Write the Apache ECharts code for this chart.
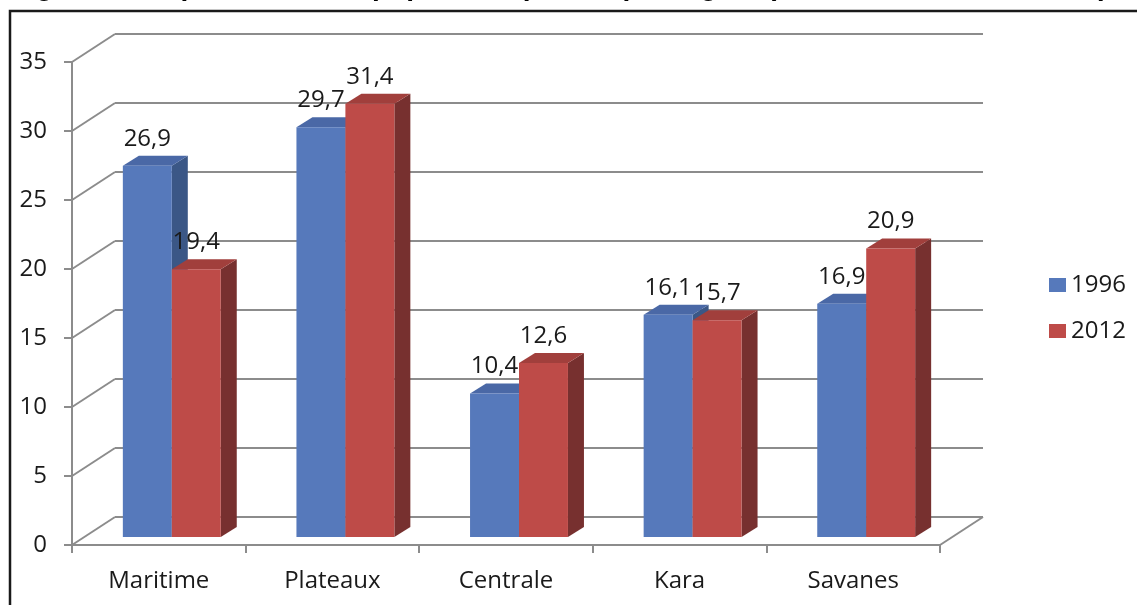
<!DOCTYPE html>
<html>
<head>
<meta charset="utf-8">
<script src="https://cdn.jsdelivr.net/npm/echarts@6/dist/echarts.min.js"></script>
<style>
  html, body { margin: 0; padding: 0; background: #ffffff; }
  #chart { width: 1137px; height: 605px; }
</style>
</head>
<body>
<div id="chart"></div>
<script>
// Data
const titleText = 'Figure 3 : Répartition de la population pauvre par région (en %, entre 1996 et 2012)';
const categories = ['Maritime', 'Plateaux', 'Centrale', 'Kara', 'Savanes'];
const years = ['1996', '2012'];
const values1996 = [26.9, 29.7, 10.4, 16.1, 16.9];
const values2012 = [19.4, 31.4, 12.6, 15.7, 20.9];
const yMin = 0, yMax = 35, yStep = 5;

// Pseudo-3D geometry (pixels)
const FLOOR = [43, -28];     // depth of the floor / back wall
const BAR_SHIFT = [13, -8];  // where the bars sit inside the floor depth
const BAR_DEPTH = [16, -10]; // thickness of each bar
const BAR_RATIO = 0.282;     // width of one bar relative to the category band

const FONT = 'Open Sans';
const GRID_COLOR = '#8c8c8c';
const TEXT_COLOR = '#1a1a1a';

const palette = {
  '1996': { front: '#5679bb', top: '#4a68a6', side: '#3b5786' },
  '2012': { front: '#be4b48', top: '#a13f3c', side: '#77302f' }
};

const tickValues = [];
for (let v = yMin; v <= yMax; v += yStep) tickValues.push(v);

function fmt(v) { return String(v).replace('.', ','); }

function barRenderer(seriesPos, colors) {
  return function (params, api) {
    const idx = api.value(0), val = api.value(1);
    const top = api.coord([idx, val]);
    const base = api.coord([idx, 0]);
    const band = api.size([1, 0])[0];
    const w = band * BAR_RATIO;
    const cx = top[0] + BAR_SHIFT[0];
    const x0 = seriesPos === 0 ? cx - w : cx;
    const x1 = x0 + w;
    const yT = top[1] + BAR_SHIFT[1];
    const yB = base[1] + BAR_SHIFT[1];
    const dx = BAR_DEPTH[0], dy = BAR_DEPTH[1];
    return {
      type: 'group',
      children: [
        { type: 'polygon', shape: { points: [[x1, yT], [x1 + dx, yT + dy], [x1 + dx, yB + dy], [x1, yB]] },
          style: { fill: colors.side } },
        { type: 'polygon', shape: { points: [[x0, yT], [x0 + dx, yT + dy], [x1 + dx, yT + dy], [x1, yT]] },
          style: { fill: colors.top } },
        { type: 'rect', shape: { x: x0, y: yT, width: w, height: yB - yT },
          style: { fill: colors.front } },
        { type: 'text', style: { text: fmt(val), x: (x0 + x1) / 2, y: yT - 15,
            align: 'center', verticalAlign: 'bottom',
            fontFamily: FONT, fontSize: 24, fill: TEXT_COLOR } }
      ]
    };
  };
}

// Diagonal lines joining the front axis to the back wall, plus the floor's right edge
function wallRenderer(params, api) {
  const v = api.value(1);
  const p = api.coord([0, v]);
  const cs = params.coordSys;
  const children = [{
    type: 'line',
    shape: { x1: cs.x, y1: p[1], x2: cs.x + FLOOR[0], y2: p[1] + FLOOR[1] },
    style: { stroke: GRID_COLOR, lineWidth: 2 }
  }];
  if (v === yMin) {
    children.push({
      type: 'line',
      shape: { x1: cs.x + cs.width, y1: p[1], x2: cs.x + cs.width + FLOOR[0], y2: p[1] + FLOOR[1] },
      style: { stroke: GRID_COLOR, lineWidth: 2 }
    });
  }
  return { type: 'group', children };
}

const chart = echarts.init(document.getElementById('chart'), null, { renderer: 'canvas' });

const frontGrid = { left: 72, top: 62, width: 868, height: 483 };
const backGrid = { left: 72 + FLOOR[0], top: 62 + FLOOR[1], width: 868, height: 483 };

chart.setOption({
  backgroundColor: '#ffffff',
  animation: false,
  graphic: [
    { type: 'text', z: 10, style: { text: titleText, x: 11, y: -13, verticalAlign: 'middle',
        fontFamily: 'Liberation Sans', fontWeight: 'bold', fontSize: 28, fill: '#000' } },
    { type: 'polyline', z: 10, shape: { points: [[10, 605], [10, 11], [1137, 11]] },
      style: { stroke: '#1a1a1a', lineWidth: 2.5, fill: null } }
  ],
  legend: {
    orient: 'vertical',
    left: 1044,
    top: 268,
    itemWidth: 17,
    itemHeight: 14,
    itemGap: 22,
    icon: 'rect',
    data: years,
    textStyle: { fontFamily: FONT, fontSize: 24, color: TEXT_COLOR }
  },
  grid: [
    Object.assign({ containLabel: false }, frontGrid),
    Object.assign({ containLabel: false }, backGrid)
  ],
  xAxis: [
    {
      type: 'category', gridIndex: 0, data: categories,
      axisLine: { lineStyle: { color: GRID_COLOR, width: 2 } },
      axisTick: { show: true, alignWithLabel: false, length: 8, lineStyle: { color: GRID_COLOR, width: 2 } },
      axisLabel: { fontFamily: FONT, fontSize: 24, color: TEXT_COLOR, margin: 24 },
      splitLine: { show: false }
    },
    {
      type: 'category', gridIndex: 1, data: categories,
      axisLine: { show: false }, axisTick: { show: false }, axisLabel: { show: false },
      splitLine: { show: false }
    }
  ],
  yAxis: [
    {
      type: 'value', gridIndex: 0, min: yMin, max: yMax, interval: yStep,
      axisLine: { show: true, lineStyle: { color: GRID_COLOR, width: 2 } },
      axisTick: { show: true, length: 8, lineStyle: { color: GRID_COLOR, width: 2 } },
      axisLabel: { fontFamily: FONT, fontSize: 24, color: TEXT_COLOR, margin: 25 },
      splitLine: { show: false }
    },
    {
      type: 'value', gridIndex: 1, min: yMin, max: yMax, interval: yStep,
      axisLine: { show: false }, axisTick: { show: false }, axisLabel: { show: false },
      splitLine: { show: true, lineStyle: { color: GRID_COLOR, width: 2 } }
    }
  ],
  series: [
    {
      name: 'wall', type: 'custom', xAxisIndex: 0, yAxisIndex: 0, silent: true, z: 1,
      data: tickValues.map(v => [0, v]),
      encode: { x: 0, y: 1 },
      renderItem: wallRenderer
    },
    {
      name: years[0], type: 'custom', xAxisIndex: 0, yAxisIndex: 0, z: 3,
      itemStyle: { color: palette['1996'].front },
      data: values1996.map((v, i) => [i, v]),
      encode: { x: 0, y: 1 },
      renderItem: barRenderer(0, palette['1996'])
    },
    {
      name: years[1], type: 'custom', xAxisIndex: 0, yAxisIndex: 0, z: 4,
      itemStyle: { color: palette['2012'].front },
      data: values2012.map((v, i) => [i, v]),
      encode: { x: 0, y: 1 },
      renderItem: barRenderer(1, palette['2012'])
    }
  ]
});
</script>
</body>
</html>
